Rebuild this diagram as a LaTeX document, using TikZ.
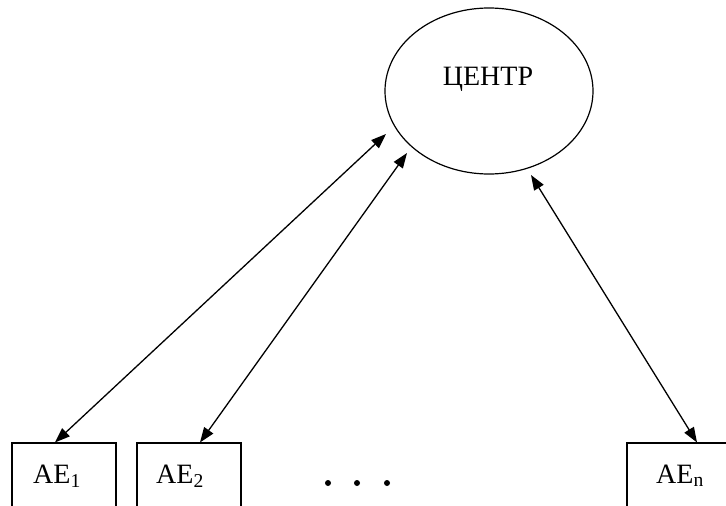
\documentclass[tikz,border=0pt]{standalone}
\usepackage{fontspec}
\setmainfont{Liberation Serif}
\usetikzlibrary{arrows.meta,calc,shapes.geometric}
\begin{document}
\begin{tikzpicture}[x=1pt,y=-1pt,
  box/.style={draw,line width=1.1pt,minimum width=104pt,minimum height=70pt,inner sep=0pt},
  link/.style={line width=1.3pt,{Triangle[length=15pt,width=11pt]}-{Triangle[length=15pt,width=11pt]}},
  lbl/.style={font=\fontsize{28}{30}\selectfont,inner sep=0pt}]
\useasboundingbox (0,0) rectangle (726,506);
\clip (0,0) rectangle (726,506);
\node[draw,line width=1.2pt,ellipse,minimum width=208pt,minimum height=166pt,inner sep=0pt] (c) at (489,91) {};
\node[lbl,anchor=base] (ct) at (488,85) {ЦЕНТР};
\node[box] (b1) at (64,478) {};
\node[box] (b2) at (189,478) {};
\node[box] (bn) at (679,478) {};
\node[lbl,anchor=base] (l1) at (57,483) {AE\textsubscript{1}};
\node[lbl,anchor=base] (l2) at (180,483) {AE\textsubscript{2}};
\node[lbl,anchor=base] (ln) at (680,483) {AE\textsubscript{n}};
\foreach \i/\x in {1/328,2/357,3/387} \fill (\x,483) circle (3pt) coordinate (d\i);
\draw[link] ($(b1.north)+(-9,0)$) -- ($(c.center)+(-103,43)$);
\draw[link] ($(b2.north)+(11,0)$) -- ($(c.center)+(-82,62)$);
\draw[link] ($(bn.north)+(18,0)$) -- ($(c.center)+(42,84)$);
\end{tikzpicture}
\end{document}
